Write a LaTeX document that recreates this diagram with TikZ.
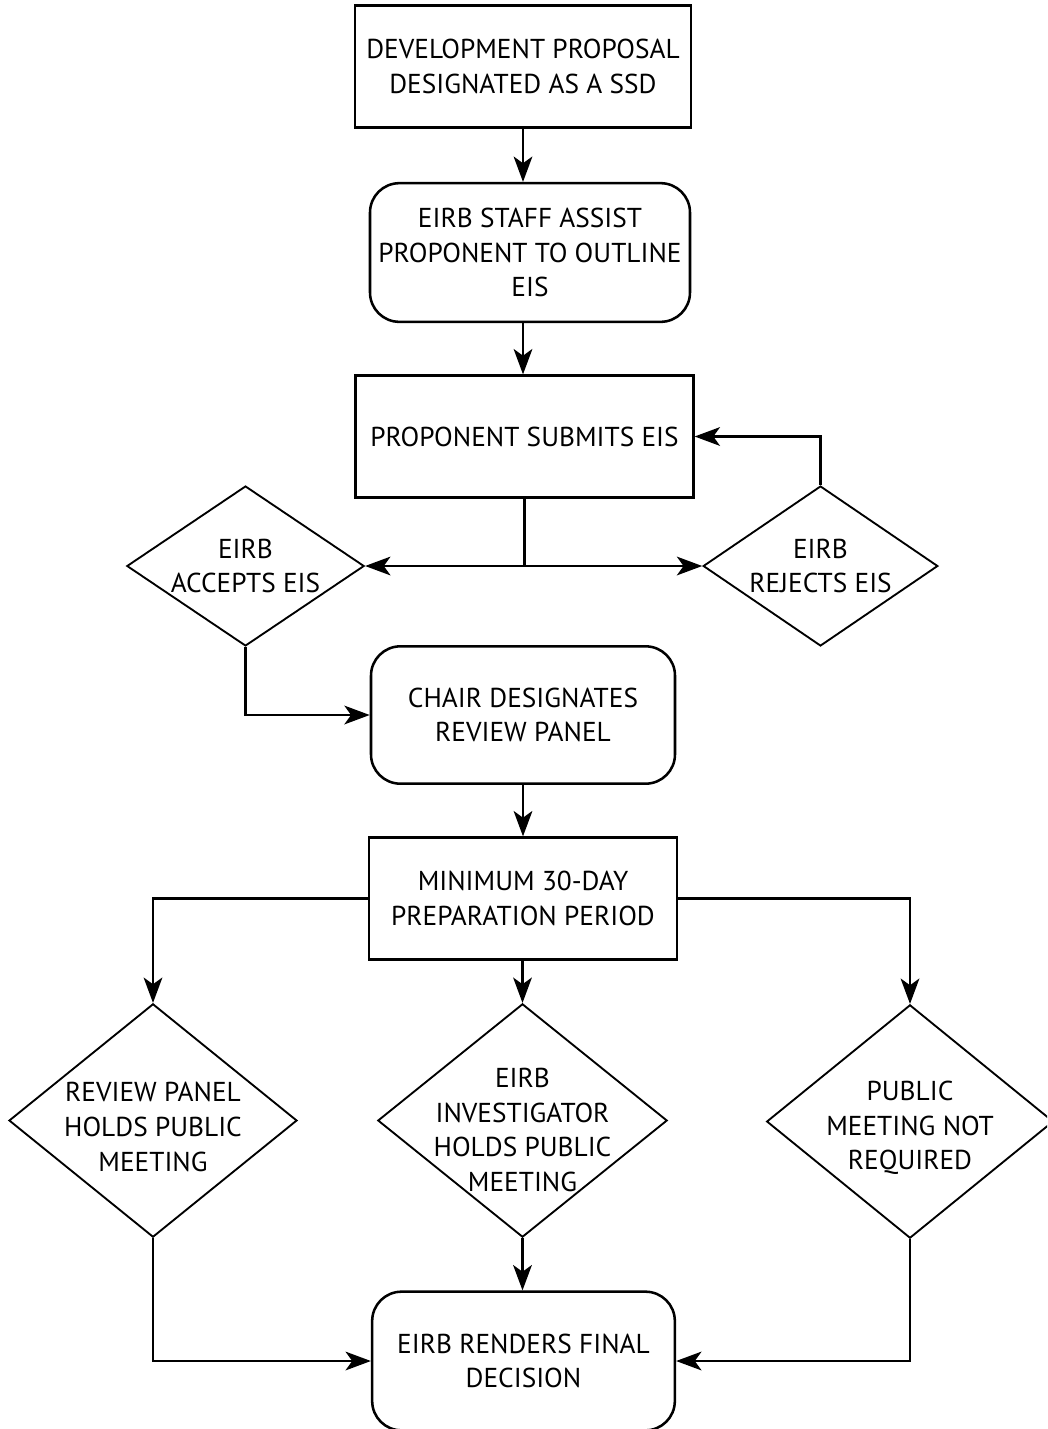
\documentclass[tikz,border=0pt]{standalone}
\usepackage{fontspec}
\setmainfont{PT Sans}
\usetikzlibrary{arrows.meta,shapes.geometric,calc}
\tikzset{
  px/.style={x=0.75pt,y=-0.75pt},
  txt/.style={align=center,font=\fontsize{20.5}{26}\selectfont,inner sep=0pt},
  sqbox/.style={draw,line width=2.2pt,txt},
  rbox/.style={draw,line width=1.9pt,rounded corners=22pt,txt},
  dia/.style={draw,diamond,line width=1.4pt,inner sep=0pt},
  conn/.style={line width=2pt,-{Stealth[length=19pt,width=14pt,inset=5pt]}},
  plain/.style={line width=2pt}
}
\begin{document}
\begin{tikzpicture}[px]
\clip (0,0) rectangle (1047,1429);
\fill[white] (0,0) rectangle (1047,1429);
% boxes
\node[sqbox,minimum width=252pt,minimum height=91pt] (b1) at (523,66.5) {DEVELOPMENT PROPOSAL\\DESIGNATED AS A SSD};
\node[rbox,minimum width=240pt,minimum height=104pt] (b2) at (530,252.5) {EIRB STAFF ASSIST\\PROPONENT TO OUTLINE\\EIS};
\node[sqbox,minimum width=253pt,minimum height=91pt] (b3) at (524.5,436.5) {PROPONENT SUBMITS EIS};
\node[dia,minimum width=178pt,minimum height=120pt] (acc) at (245.5,566) {};
\node[txt] (acct) at (245.5,566) {EIRB\\ACCEPTS EIS};
\node[dia,minimum width=176pt,minimum height=120pt] (rej) at (820.5,566) {};
\node[txt] (rejt) at (820.5,566) {EIRB\\REJECTS EIS};
\node[rbox,minimum width=228pt,minimum height=103pt] (chair) at (523,715) {CHAIR DESIGNATES\\REVIEW PANEL};
\node[sqbox,minimum width=231pt,minimum height=91pt] (b7) at (523,898.5) {MINIMUM 30-DAY\\PREPARATION PERIOD};
\node[dia,minimum width=216pt,minimum height=175pt] (d8) at (153,1120.5) {};
\node[txt] (d8t) at (153,1127) {REVIEW PANEL\\HOLDS PUBLIC\\MEETING};
\node[dia,minimum width=217pt,minimum height=175pt] (d9) at (522.5,1120.5) {};
\node[txt] (d9t) at (522.5,1130) {EIRB\\INVESTIGATOR\\HOLDS PUBLIC\\MEETING};
\node[dia,minimum width=215pt,minimum height=175pt] (d10) at (910,1121.5) {};
\node[txt] (d10t) at (910,1128) {PUBLIC\\MEETING NOT\\REQUIRED};
\node[rbox,minimum width=227pt,minimum height=104pt] (fin) at (523.5,1361) {EIRB RENDERS FINAL\\DECISION};
% connectors
\draw[conn] (b1.south) -- (b1.south |- b2.north);
\draw[conn] (b2.south -| b1.south) -- (b1.south |- b3.north);
\coordinate (j) at (b3.south |- acc.east);
\draw[plain] (b3.south) -- (j);
\draw[conn] (j) -- (acc.east);
\draw[conn] (j) -- (rej.west);
\draw[conn] (rej.north) |- (b3.east);
\draw[conn] (acc.south) |- (chair.west);
\draw[conn] (chair.south) -- (b7.north);
\draw[conn] (b7.west) -| (d8.north);
\draw[conn] (d9.north |- b7.south) -- (d9.north);
\draw[conn] (b7.east) -| (d10.north);
\draw[conn] (d8.south) |- (fin.west);
\draw[conn] (d9.south) -- (d9.south |- fin.north);
\draw[conn] (d10.south) |- (fin.east);
\end{tikzpicture}
\end{document}
